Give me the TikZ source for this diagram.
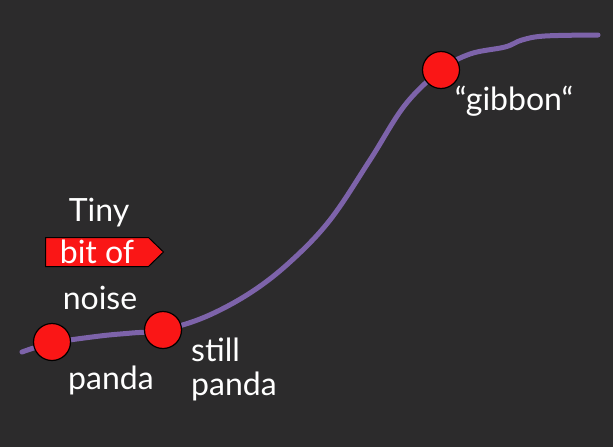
\documentclass[tikz,border=0pt]{standalone}
\usepackage{fontspec}
\setmainfont{Lato}
\usetikzlibrary{shapes.symbols}
\definecolor{bg}{RGB}{44,43,44}
\definecolor{curve}{RGB}{125,99,170}
\definecolor{dotred}{RGB}{250,22,22}
\tikzset{
  dot/.style={circle,fill=dotred,draw=black,line width=1.2pt,minimum size=37pt,inner sep=0pt},
  lbl/.style={text=white,font=\fontsize{32}{38}\selectfont,inner sep=0pt},
  tag/.style={signal,signal to=east,fill=dotred,draw=black,line width=1pt,text=white,
    font=\fontsize{32}{38}\selectfont,minimum height=29pt,inner sep=0pt,inner xsep=3pt,signal pointer angle=88}
}
\begin{document}
\begin{tikzpicture}[x=1pt,y=-1pt]
\fill[bg] (0,0) rectangle (613,447);
\useasboundingbox (0,0) rectangle (613,447);
\draw[curve,line width=5pt,line cap=round] plot[smooth,tension=0.6] coordinates
 {(22,352) (52,343) (100,336) (132,333) (163,330) (205,317) (250,293) (290,262) (330,220) (370,160) (405,105) (441,70) (470,54) (505,47) (522,40) (545,36) (598,35)};
\node[dot] (panda) at (52,342) {};
\node[dot] (still) at (163,330) {};
\node[dot] (gib) at (441,70) {};
\node[lbl] (tiny) at (99,213) {Tiny};
\node[tag,minimum width=118pt,anchor=west] (bit) at (45,252) {\hspace*{2pt}bit of\hspace*{2pt}};
\node[lbl] (noise) at (100,298) {noise};
\node[lbl] (pl) at (111,380) {panda};
\node[lbl,anchor=west] (sl) at (191,350) {still};
\node[lbl,anchor=west] (sp) at (191,386) {panda};
\node[lbl] (gl) at (514,101) {“gibbon“};
\end{tikzpicture}
\end{document}
